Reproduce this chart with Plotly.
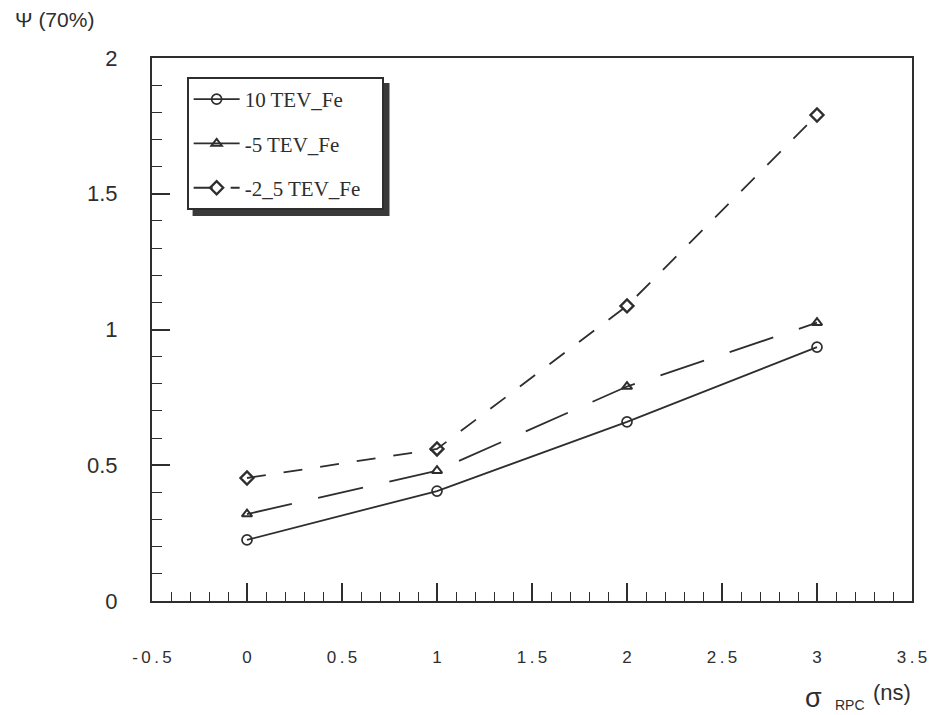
import plotly.graph_objects as go

x_vals = [0, 1, 2, 3]
y_10tev = [0.225, 0.405, 0.66, 0.935]
y_5tev = [0.32, 0.48, 0.79, 1.025]
y_25tev = [0.453, 0.56, 1.087, 1.79]
names = ["10 TEV_Fe", "-5 TEV_Fe", "-2_5 TEV_Fe"]
x_ticks = [-0.5, 0, 0.5, 1, 1.5, 2, 2.5, 3, 3.5]
x_ticktext = ["-0.5", "0", "0.5", "1", "1.5", "2", "2.5", "3", "3.5"]
y_ticks = [0, 0.5, 1, 1.5, 2]
y_ticktext = ["0", "0.5", "1", "1.5", "2"]

INK = "#2e2e2e"
OFF = 8                      # page body margin
L, R, T, B = 152, 920, 58, 601   # plot area in page pixels
W, H = 939 - OFF, 715 - OFF

def px(xp):
    return (xp - L) / (R - L)

def py(yp):
    return (B - yp) / (B - T)

def spaced(s):
    return "\u2009".join(s)

fig = go.Figure()
fig.add_trace(go.Scatter(x=x_vals, y=y_10tev, name=names[0], mode="lines+markers",
                         legendgroup="a",
                         line=dict(color=INK, width=1.8),
                         marker=dict(symbol="circle-open", size=10, color=INK, line=dict(width=1.7))))
fig.add_trace(go.Scatter(x=x_vals, y=y_5tev, name=names[1], mode="lines+markers",
                         legendgroup="b",
                         line=dict(color=INK, width=1.8, dash="46px,27px"),
                         marker=dict(symbol="triangle-up-open", size=9, color=INK, line=dict(width=2))))
fig.add_trace(go.Scatter(x=x_vals, y=y_25tev, name=names[2] + "\u00a0\u00a0\u00a0", mode="lines+markers",
                         legendgroup="c",
                         line=dict(color=INK, width=1.8, dash="19px,18px"),
                         marker=dict(symbol="diamond-open", size=10, color=INK, line=dict(width=2.4))))

# legend shadow
lx0, lx1, ly0, ly1 = 187, 387, 77, 207
fig.add_shape(type="rect", xref="paper", yref="paper",
              x0=px(lx0 + 6), x1=px(lx1 + 5), y0=py(ly1 + 9), y1=py(ly0 + 6),
              fillcolor="#3a3a3a", line=dict(width=0), layer="above")

fig.add_annotation(x=px(12), y=py(19), xref="paper", yref="paper", xanchor="left", yanchor="middle",
                   text="Ψ (70%)", showarrow=False,
                   font=dict(family="Liberation Sans, Arial", size=21, color=INK))
fig.add_annotation(x=px(820), y=py(698), xref="paper", yref="paper", xanchor="center", yanchor="middle",
                   text="σ", showarrow=False,
                   font=dict(family="Liberation Sans, Arial", size=27, color=INK))
fig.add_annotation(x=px(857), y=py(705), xref="paper", yref="paper", xanchor="center", yanchor="middle",
                   text="RPC", showarrow=False,
                   font=dict(family="Liberation Sans, Arial", size=14, color=INK))
fig.add_annotation(x=px(900), y=py(692), xref="paper", yref="paper", xanchor="center", yanchor="middle",
                   text="(ns)", showarrow=False,
                   font=dict(family="Liberation Sans, Arial", size=22, color=INK))

fig.update_layout(
    width=W, height=H,
    margin=dict(l=L - OFF, r=W - (R - OFF), t=T - OFF, b=H - (B - OFF)),
    paper_bgcolor="white", plot_bgcolor="white",
    showlegend=True,
    legend=dict(x=px(lx0), y=py(ly0), xanchor="left", yanchor="top",
                bgcolor="white", bordercolor=INK, borderwidth=2,
                font=dict(family="Liberation Serif, Times New Roman", size=21, color=INK),
                itemwidth=46, tracegroupgap=14),
    xaxis=dict(range=[-0.5, 3.5], tickvals=x_ticks, ticktext=[spaced(t) for t in x_ticktext],
               showgrid=False, zeroline=False, showline=True, linecolor=INK, linewidth=2,
               mirror=True, ticks="inside", ticklen=18, tickwidth=1.5, tickcolor=INK,
               ticklabelstandoff=40,
               minor=dict(dtick=0.1, tick0=0, ticks="inside", ticklen=9, tickwidth=1.3, tickcolor=INK,
                          showgrid=False),
               tickfont=dict(family="Liberation Sans, Arial", size=17, color=INK)),
    yaxis=dict(range=[0, 2], tickvals=y_ticks, ticktext=y_ticktext,
               showgrid=False, zeroline=False, showline=True, linecolor=INK, linewidth=2,
               mirror=True, ticks="inside", ticklen=18, tickwidth=1.5, tickcolor=INK,
               ticklabelstandoff=28,
               minor=dict(dtick=0.1, tick0=0, ticks="inside", ticklen=10, tickwidth=1.3, tickcolor=INK,
                          showgrid=False),
               tickfont=dict(family="Liberation Sans, Arial", size=22, color=INK)),
)

fig.write_html("out.html")
